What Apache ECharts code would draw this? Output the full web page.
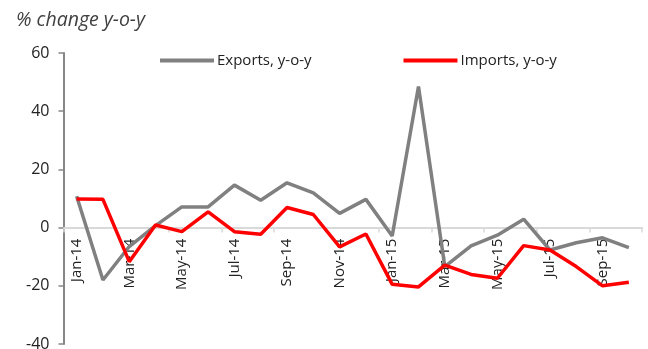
<!DOCTYPE html>
<html><head><meta charset="utf-8">
<script src="https://cdn.jsdelivr.net/npm/echarts@6/dist/echarts.min.js"></script>
<style>html,body{margin:0;padding:0;background:#fff}#c{width:648px;height:349px}</style>
</head><body><div id="c"></div>
<script>
var categories = ['Jan-14','Feb-14','Mar-14','Apr-14','May-14','Jun-14','Jul-14','Aug-14','Sep-14','Oct-14','Nov-14','Dec-14',
                  'Jan-15','Feb-15','Mar-15','Apr-15','May-15','Jun-15','Jul-15','Aug-15','Sep-15','Oct-15'];
var exportsYoY = [10.8,-18,-6.5,0.7,7.1,7.1,14.6,9.4,15.4,11.9,4.9,9.7,-2.9,48.5,-13.4,-6.3,-2.6,2.9,-7.7,-5.2,-3.5,-6.9];
var importsYoY = [9.8,9.7,-11.7,0.9,-1.4,5.4,-1.4,-2.3,6.9,4.5,-6.6,-2.2,-19.5,-20.4,-12.9,-16.1,-17.4,-6.2,-7.7,-13.4,-20,-18.8];
var yTicks = {min:-40, max:60, interval:20};
var font = "'Open Sans', 'Liberation Sans', sans-serif";
var gridTop = 53, gridBottom = 5, H = 349;
var gridH = H - gridTop - gridBottom;
var zeroOffset = -gridH * (0 - yTicks.min) / (yTicks.max - yTicks.min);
var chart = echarts.init(document.getElementById('c'), null, {renderer:'canvas'});
chart.setOption({
  animation:false,
  textStyle:{fontFamily:font},
  title:{text:'% change y-o-y', left:11, top:5,
    textStyle:{fontFamily:font, fontStyle:'italic', fontWeight:'normal', fontSize:19.5, color:'#404040'}},
  legend:{top:48, left:155, itemGap:92, itemWidth:54, itemHeight:4, icon:'rect',
    textStyle:{fontFamily:font, fontSize:15, color:'#222', padding:[0,0,0,-2]},
    data:[{name:'Exports, y-o-y'},{name:'Imports, y-o-y'}]},
  grid:{left:63.5, right:6, top:gridTop, bottom:gridBottom, containLabel:false, outerBoundsMode:'none'},
  xAxis:{type:'category', data:categories, boundaryGap:true, position:'bottom', offset:zeroOffset,
    axisLine:{onZero:false, lineStyle:{color:'#d9d9d9', width:2}},
    axisTick:{show:true, interval:1, length:5, inside:false, lineStyle:{color:'#d9d9d9', width:1.5}},
    axisLabel:{interval:1, rotate:90, fontSize:15, color:'#222', fontFamily:font, margin:11, hideOverlap:false}},
  yAxis:{type:'value', min:yTicks.min, max:yTicks.max, interval:yTicks.interval,
    splitLine:{show:false},
    axisLine:{show:true, onZero:false, lineStyle:{color:'#868686', width:2}},
    axisTick:{show:true, length:5, lineStyle:{color:'#868686', width:1.5}},
    axisLabel:{fontSize:16, color:'#222', fontFamily:font, margin:14}},
  series:[
    {name:'Exports, y-o-y', type:'line', data:exportsYoY, symbol:'none', z:2,
     lineStyle:{color:'#808080', width:3.5}, itemStyle:{color:'#808080'}},
    {name:'Imports, y-o-y', type:'line', data:importsYoY, symbol:'none', z:3,
     lineStyle:{color:'#ff0000', width:3.5}, itemStyle:{color:'#ff0000'}}
  ]
});
</script></body></html>
